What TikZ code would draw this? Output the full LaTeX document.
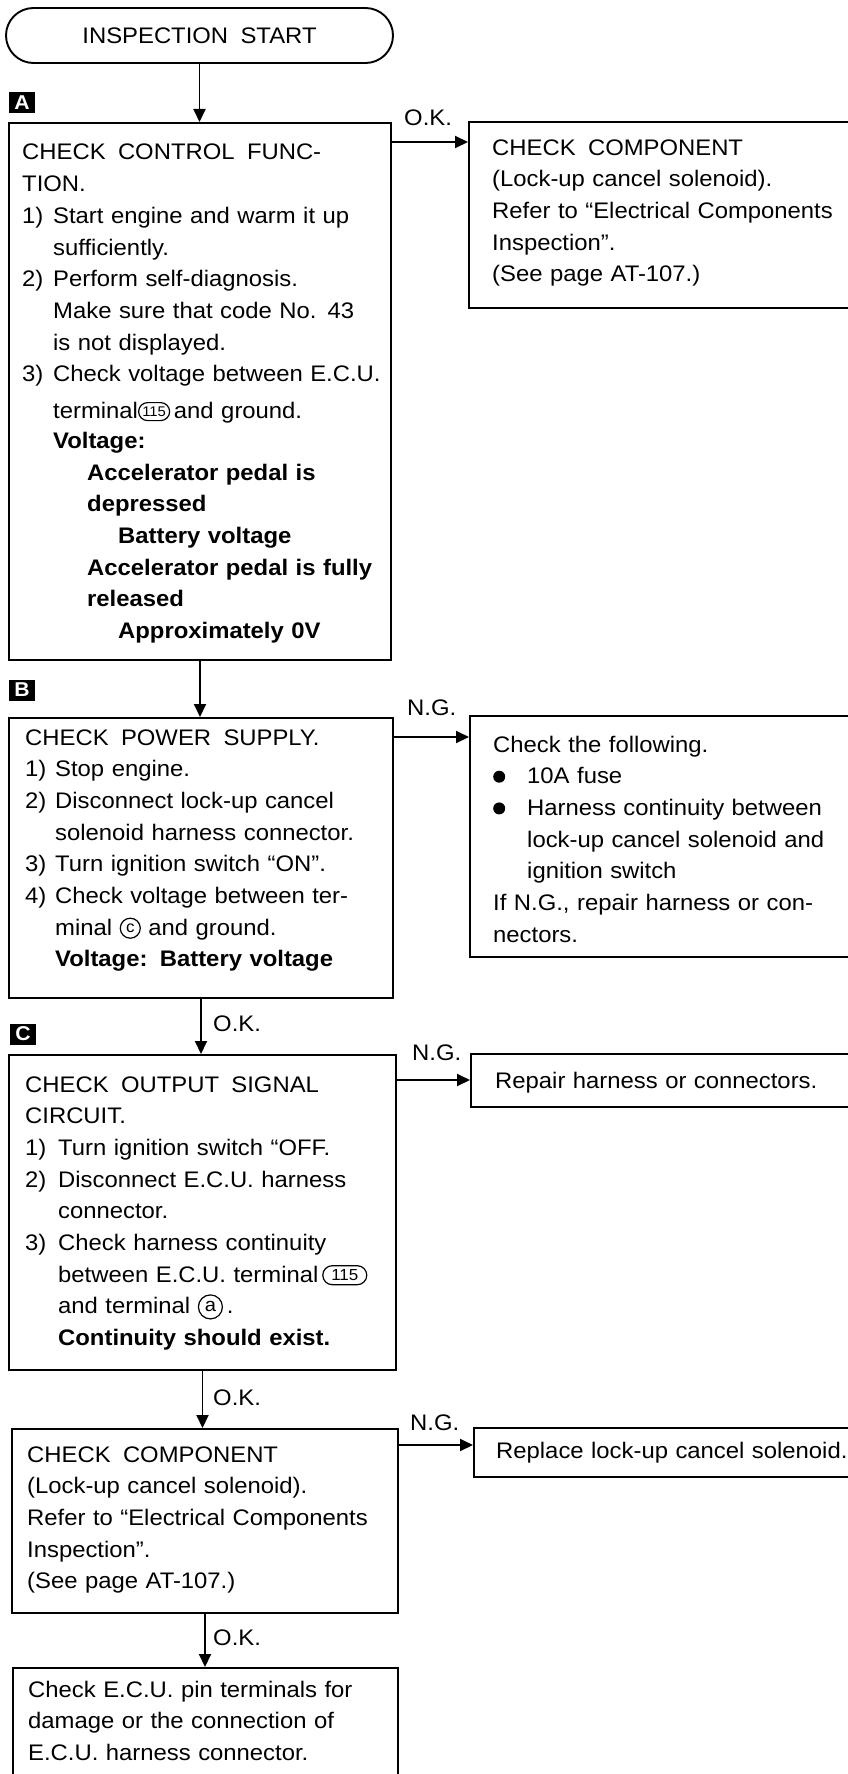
\documentclass[tikz,border=0pt]{standalone}
\usepackage{fontspec}
\setmainfont{Liberation Sans}[FakeStretch=1.06]
\usetikzlibrary{arrows.meta,shapes.misc,shapes.geometric}

% spacing helpers for the step lists
\newcommand\stepno[2][31pt]{\makebox[#1][l]{#2}}
\newcommand\ind[1]{\hspace*{#1}}
\newcommand\gap{\hspace{0.55em}}
% terminal marks drawn inline
\newcommand\ringnum[4]{\tikz[baseline={([yshift=-7pt]rg.center)}]\node[draw, rounded rectangle, line width=1.2pt, inner sep=0pt, minimum width=#1, minimum height=#2, font=\fontsize{#3}{#3}\selectfont] (rg) {#4};}
\newcommand\ringlet[3]{\tikz[baseline={([yshift=-7pt]rl.center)}]\node[draw, circle, line width=1.2pt, inner sep=0pt, minimum size=#1, font=\fontsize{#2}{#2}\selectfont] (rl) {#3};}
\newcommand\dotbullet{\tikz[baseline=0pt]\fill (0pt,7pt) circle[radius=6pt];}

\begin{document}
\begin{tikzpicture}[x=1pt, y=-1pt,
  every node/.style={font=\fontsize{22.5}{31.7}\selectfont},
  box/.style={draw, line width=2pt, inner sep=0pt, anchor=north west},
  txt/.style={anchor=base west, inner sep=0pt, align=left, text width=380pt},
  lbl/.style={anchor=base west, inner sep=0pt},
  tag/.style={fill=black, text=white, inner sep=0pt, minimum width=26pt, minimum height=21pt, font=\bfseries\fontsize{20}{20}\selectfont},
  arr/.style={line width=1.9pt, -{Triangle[length=13pt,width=12pt]}}]
\useasboundingbox (0,0) rectangle (848,1774);
\fill[white] (0,0) rectangle (848,1774);
\clip (0,0) rectangle (848,1774);

% start terminal
\node[draw, rounded rectangle, line width=1.9pt, inner sep=0pt, minimum width=387pt, minimum height=55pt] (start) at (199.5,35.5) {INSPECTION\gap START};

% left column boxes
\node[box, minimum width=382pt, minimum height=537pt] (A) at (8,122) {};
\node[box, minimum width=384pt, minimum height=280pt] (B) at (8,717) {};
\node[box, minimum width=387pt, minimum height=315pt] (C) at (8,1054) {};
\node[box, minimum width=386pt, minimum height=184pt] (D) at (11,1428) {};
\node[box, minimum width=385pt, minimum height=140pt] (E) at (12,1667) {};

% right column boxes (run past the right edge)
\node[box, minimum width=400pt, minimum height=186pt] (R1) at (468,121) {};
\node[box, minimum width=400pt, minimum height=241pt] (R2) at (469,715) {};
\node[box, minimum width=400pt, minimum height=53pt] (R3) at (470,1053) {};
\node[box, minimum width=400pt, minimum height=49pt] (R4) at (473,1427) {};

% step tags
\node[tag] (tagA) at (22,103) {A};
\node[tag] (tagB) at (22,690) {B};
\node[tag] (tagC) at (23,1034) {C};

% box texts
\node[txt] (tA) at (22,160) {CHECK\gap CONTROL\gap FUNC-\\
TION.\\
\stepno{1)}Start engine and warm it up\\
\ind{31pt}sufficiently.\\
\stepno{2)}Perform self-diagnosis.\\
\ind{31pt}Make sure that code No. 43\\
\ind{31pt}is not displayed.\\
\stepno{3)}Check voltage between E.C.U.\\[5pt]
\ind{31pt}terminal\ringnum{31pt}{18pt}{14}{115}\,and ground.\\[-2pt]
\ind{31pt}\textbf{Voltage:}\\
\ind{65pt}\textbf{Accelerator pedal is}\\
\ind{65pt}\textbf{depressed}\\
\ind{96pt}\textbf{Battery voltage}\\
\ind{65pt}\textbf{Accelerator pedal is fully}\\
\ind{65pt}\textbf{released}\\
\ind{96pt}\textbf{Approximately 0V}};

\node[txt] (tB) at (25,745) {CHECK\gap POWER\gap SUPPLY.\\
\stepno[30pt]{1)}Stop engine.\\
\stepno[30pt]{2)}Disconnect lock-up cancel\\
\ind{30pt}solenoid harness connector.\\
\stepno[30pt]{3)}Turn ignition switch “ON”.\\
\stepno[30pt]{4)}Check voltage between ter-\\
\ind{30pt}minal \ringlet{20pt}{16}{c} and ground.\\
\ind{30pt}\textbf{Voltage:\gap Battery voltage}};

\node[txt] (tC) at (25,1092) {CHECK\gap OUTPUT\gap SIGNAL\\
CIRCUIT.\\
\stepno[33pt]{1)}Turn ignition switch “OFF.\\
\stepno[33pt]{2)}Disconnect E.C.U. harness\\
\ind{33pt}connector.\\
\stepno[33pt]{3)}Check harness continuity\\
\ind{33pt}between E.C.U. terminal\,\ringnum{44pt}{19pt}{16}{115}\\
\ind{33pt}and terminal \ringlet{24pt}{19}{a}\,.\\
\ind{33pt}\textbf{Continuity should exist.}};

\node[txt] (tD) at (27,1462) {CHECK\gap COMPONENT\\
(Lock-up cancel solenoid).\\
Refer to “Electrical Components\\
Inspection”.\\
(See page AT-107.)};

\node[txt] (tE) at (28,1697) {Check E.C.U. pin terminals for\\
damage or the connection of\\
E.C.U. harness connector.};

\node[txt] (tR1) at (492,155) {CHECK\gap COMPONENT\\
(Lock-up cancel solenoid).\\
Refer to “Electrical Components\\
Inspection”.\\
(See page AT-107.)};

\node[txt] (tR2) at (493,752) {Check the following.\\
\stepno[34pt]{\dotbullet}10A fuse\\
\stepno[34pt]{\dotbullet}Harness continuity between\\
\ind{34pt}lock-up cancel solenoid and\\
\ind{34pt}ignition switch\\
If N.G., repair harness or con-\\
nectors.};

\node[txt] (tR3) at (495,1088) {Repair harness or connectors.};
\node[txt] (tR4) at (496,1458) {Replace lock-up cancel solenoid.};

% branch heights
\coordinate (yA) at (0,142);
\coordinate (yB) at (0,737);
\coordinate (yC) at (0,1080);
\coordinate (yD) at (0,1445);

% main flow
\draw[arr] (start.south) -- (start.south |- A.north);
\draw[arr] (A.south) -- (A.south |- B.north);
\draw[arr] (B.south) -- (B.south |- C.north);
\draw[arr] (C.south) -- (C.south |- D.north);
\draw[arr] (D.south) -- (D.south |- E.north);

% branches to the right
\draw[arr] (A.east |- yA) -- (R1.west |- yA);
\draw[arr] (B.east |- yB) -- (R2.west |- yB);
\draw[arr] (C.east |- yC) -- (R3.west |- yC);
\draw[arr] (D.east |- yD) -- (R4.west |- yD);

% branch labels
\node[lbl] (okA) at (404,125) {O.K.};
\node[lbl] (ngB) at (407,715) {N.G.};
\node[lbl] (ngC) at (412,1060) {N.G.};
\node[lbl] (ngD) at (410,1430) {N.G.};
\node[lbl] (okB) at (213,1031) {O.K.};
\node[lbl] (okC) at (213,1405) {O.K.};
\node[lbl] (okD) at (213,1645) {O.K.};
\end{tikzpicture}
\end{document}
